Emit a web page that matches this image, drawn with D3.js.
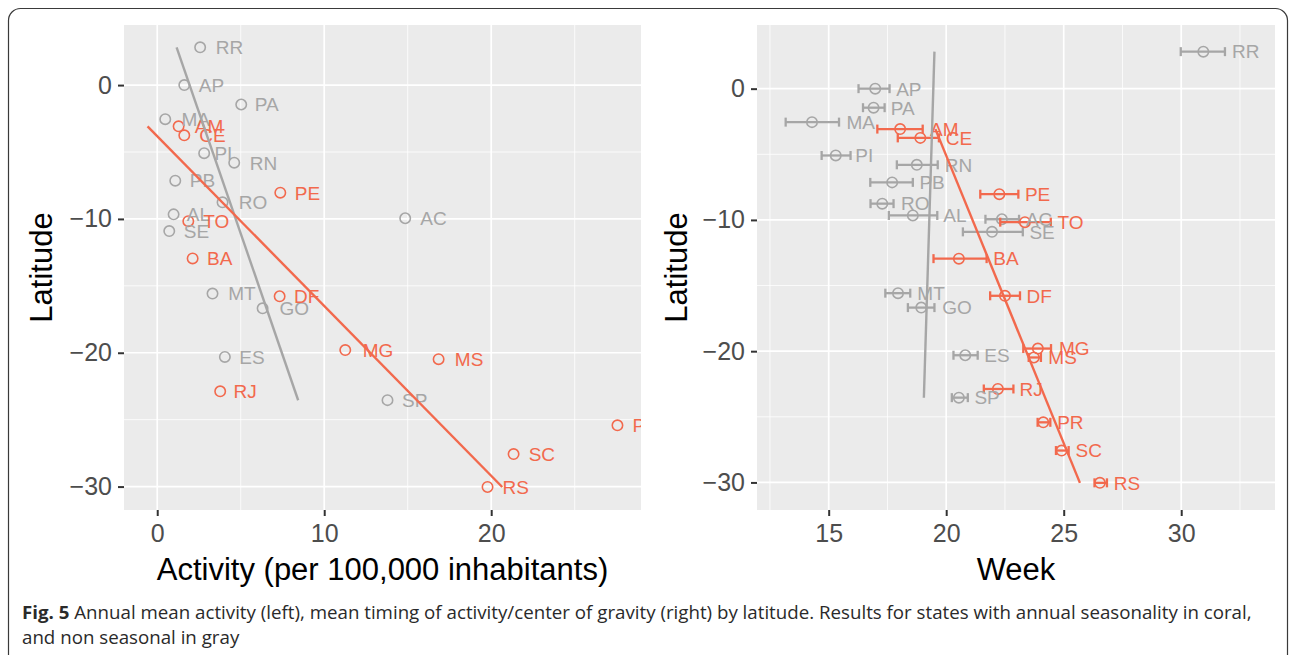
<!DOCTYPE html>
<html><head><meta charset="utf-8">
<script src="https://cdn.jsdelivr.net/npm/d3@7"></script>
<style>
body{margin:0;background:#fff;}
svg{display:block;}
</style>
</head><body>
<script>
// ---- data ----
const states    = ["RR","AP","PA","MA","AM","CE","PI","RN","PB","PE","RO","AL","AC","TO","SE","BA","MT","DF","GO","MG","MS","ES","RJ","SP","PR","SC","RS"];
const latitude  = [2.82,0.00,-1.45,-2.55,-3.08,-3.75,-5.09,-5.80,-7.14,-8.04,-8.76,-9.66,-9.95,-10.17,-10.91,-12.95,-15.58,-15.78,-16.68,-19.80,-20.48,-20.31,-22.88,-23.54,-25.42,-27.57,-30.03];
const seasonal  = [0,0,0,0,1,1,0,0,0,1,0,0,0,1,0,1,0,1,0,1,1,0,1,0,1,1,1];
const activity  = [2.57,1.62,5.03,0.48,1.28,1.62,2.81,4.61,1.08,7.37,3.91,0.98,14.85,1.86,0.72,2.12,3.31,7.33,6.31,11.26,16.85,4.05,3.77,13.79,27.56,21.34,19.78];
const week      = [30.94,16.98,16.91,14.29,18.04,18.90,15.30,18.75,17.70,22.26,17.28,18.58,22.37,23.35,21.95,20.54,17.95,22.50,18.94,23.90,23.73,20.81,22.20,20.54,24.13,24.91,26.54];
const weekLow   = [29.98,16.27,16.46,13.17,17.07,17.94,14.70,17.90,16.77,21.45,16.78,17.56,21.67,22.30,20.71,19.46,17.41,21.87,18.37,23.28,23.51,20.31,21.60,20.24,23.89,24.67,26.31];
const weekHigh  = [31.86,17.59,17.38,15.44,19.00,19.69,15.93,19.64,18.58,23.07,17.76,19.62,23.10,24.45,23.26,21.72,18.47,23.14,19.50,24.46,24.03,21.34,22.86,20.92,24.43,25.21,26.84];
// fitted lines: [x, latitude] end points
const fitActivityGray  = [[1.16, 2.82], [8.44, -23.55]];
const fitActivityCoral = [[-0.58, -3.08], [20.66, -30.03]];
const fitWeekGray      = [[19.50, 2.82], [19.05, -23.55]];
const fitWeekCoral     = [[19.54, -3.08], [25.69, -30.03]];
const xTicksLeft  = [0, 10, 20];
const xTicksRight = [15, 20, 25, 30];
const yTicks      = [0, -10, -20, -30];

const CORAL = "#F2694D", GRAY = "#A6A6A6";
const rows = states.map((s,i)=>({s, lat:latitude[i], seas:seasonal[i], act:activity[i], wk:week[i], lo:weekLow[i], hi:weekHigh[i]}));
const ordered = rows.filter(d=>!d.seas).concat(rows.filter(d=>d.seas));

const W = 1290, H = 655;
const svg = d3.select("body").append("svg").attr("width", W).attr("height", H);

// outer frame
svg.append("rect").attr("x",8.5).attr("y",8.5).attr("width",1279).attr("height",720)
  .attr("rx",12).attr("fill","none").attr("stroke","#3a3a3a").attr("stroke-width",1.2);

const FONT = "'Liberation Sans', Arial, Helvetica, sans-serif";

function panel(opts){
  const {left, width, top, height, xDomain, yDomain, xTicks, xMinor, yMinor, id} = opts;
  const x = d3.scaleLinear().domain(xDomain).range([left, left+width]);
  const y = d3.scaleLinear().domain(yDomain).range([top+height, top]);
  const g = svg.append("g");
  g.append("rect").attr("x",left).attr("y",top).attr("width",width).attr("height",height).attr("fill","#EBEBEB");
  g.selectAll(".vmin").data(xMinor).join("line").attr("x1",d=>x(d)).attr("x2",d=>x(d)).attr("y1",top).attr("y2",top+height)
    .attr("stroke","#fff").attr("stroke-width",0.8);
  g.selectAll(".hmin").data(yMinor).join("line").attr("y1",d=>y(d)).attr("y2",d=>y(d)).attr("x1",left).attr("x2",left+width)
    .attr("stroke","#fff").attr("stroke-width",0.8);
  g.selectAll(".vmaj").data(xTicks).join("line").attr("x1",d=>x(d)).attr("x2",d=>x(d)).attr("y1",top).attr("y2",top+height)
    .attr("stroke","#fff").attr("stroke-width",1.7);
  g.selectAll(".hmaj").data(yTicks).join("line").attr("y1",d=>y(d)).attr("y2",d=>y(d)).attr("x1",left).attr("x2",left+width)
    .attr("stroke","#fff").attr("stroke-width",1.7);
  const ax = svg.append("g").attr("transform",`translate(0,${top+height})`)
    .call(d3.axisBottom(x).tickValues(xTicks).tickSize(6).tickSizeOuter(0).tickPadding(8));
  const ay = svg.append("g").attr("transform",`translate(${left},0)`)
    .call(d3.axisLeft(y).tickValues(yTicks).tickSize(6).tickSizeOuter(0).tickPadding(6));
  [ax, ay].forEach(a=>{
    a.select(".domain").remove();
    a.selectAll(".tick line").attr("stroke","#333").attr("stroke-width",2);
    a.selectAll(".tick text").attr("fill","#4D4D4D").style("font-family",FONT).style("font-size","25px");
  });
  svg.append("clipPath").attr("id",id).append("rect").attr("x",left).attr("y",top).attr("width",width).attr("height",height);
  const plot = svg.append("g").attr("clip-path",`url(#${id})`);
  return {x, y, plot};
}

// ---- left panel ----
const L = panel({left:124, width:517, top:25, height:485, xDomain:[-1.99, 28.97], yDomain:[-31.75, 4.49],
  xTicks:xTicksLeft, xMinor:[5,15,25], yMinor:[-5,-15,-25], id:"clipL"});
L.plot.selectAll("circle").data(ordered).join("circle")
  .attr("cx",d=>L.x(d.act)).attr("cy",d=>L.y(d.lat)).attr("r",5.2)
  .attr("fill","none").attr("stroke",d=>d.seas?CORAL:GRAY).attr("stroke-width",1.6);
const lt = L.plot.selectAll("text").data(ordered).join("text")
  .attr("y",d=>L.y(d.lat)).attr("dy","0.36em")
  .attr("fill",d=>d.seas?CORAL:GRAY).style("font-family",FONT).style("font-size","19px")
  .text(d=>d.s);
lt.each(function(d){ const w=this.getComputedTextLength(); d3.select(this).attr("x", L.x(d.act)+0.57*w); });
[[fitActivityGray,GRAY],[fitActivityCoral,CORAL]].forEach(([pts,c])=>{
  L.plot.append("path").attr("d", d3.line().x(p=>L.x(p[0])).y(p=>L.y(p[1]))(pts))
    .attr("stroke",c).attr("stroke-width",2.4).attr("fill","none");
});

// ---- right panel ----
const R = panel({left:757, width:518, top:25, height:485, xDomain:[11.95, 33.99], yDomain:[-32.1, 4.85],
  xTicks:xTicksRight, xMinor:[12.5,17.5,22.5,27.5,32.5], yMinor:[-5,-15,-25], id:"clipR"});
const eb = R.plot.selectAll("g.eb").data(ordered).join("g").attr("class","eb")
  .attr("stroke",d=>d.seas?CORAL:GRAY).attr("stroke-width",2.3).attr("fill","none");
eb.append("line").attr("x1",d=>R.x(d.lo)).attr("x2",d=>R.x(d.hi)).attr("y1",d=>R.y(d.lat)).attr("y2",d=>R.y(d.lat));
eb.append("line").attr("x1",d=>R.x(d.lo)).attr("x2",d=>R.x(d.lo)).attr("y1",d=>R.y(d.lat)-4.5).attr("y2",d=>R.y(d.lat)+4.5);
eb.append("line").attr("x1",d=>R.x(d.hi)).attr("x2",d=>R.x(d.hi)).attr("y1",d=>R.y(d.lat)-4.5).attr("y2",d=>R.y(d.lat)+4.5);
eb.append("circle").attr("cx",d=>R.x(d.wk)).attr("cy",d=>R.y(d.lat)).attr("r",5.2).attr("stroke-width",1.6);
const rt = R.plot.selectAll("text").data(ordered).join("text")
  .attr("y",d=>R.y(d.lat)).attr("dy","0.36em")
  .attr("fill",d=>d.seas?CORAL:GRAY).style("font-family",FONT).style("font-size","19px")
  .text(d=>d.s);
rt.each(function(d){ const w=this.getComputedTextLength(); d3.select(this).attr("x", R.x(d.hi)+0.26*w); });
[[fitWeekGray,GRAY],[fitWeekCoral,CORAL]].forEach(([pts,c])=>{
  R.plot.append("path").attr("d", d3.line().x(p=>R.x(p[0])).y(p=>R.y(p[1]))(pts))
    .attr("stroke",c).attr("stroke-width",2.4).attr("fill","none");
});

// ---- axis titles ----
function title(txt, x, y, rot){
  svg.append("text").attr("transform",`translate(${x},${y})${rot?" rotate(-90)":""}`)
    .attr("text-anchor","middle").attr("fill","#000").style("font-family",FONT).style("font-size","31px").text(txt);
}
title("Activity (per 100,000 inhabitants)", 382.5, 580);
title("Week", 1016, 580);
title("Latitude", 52, 267.5, true);
title("Latitude", 687, 267.5, true);

// ---- caption ----
const CAPF = "'Open Sans', 'Noto Sans', sans-serif";
const capG = svg.append("g").attr("transform","translate(22,0)");
const cap1 = capG.append("text").attr("x",0).attr("y",619).style("font-family",CAPF).style("font-size","17.5px").attr("fill","#2a2a2a");
cap1.append("tspan").style("font-weight","bold").text("Fig. 5");
cap1.append("tspan").text(" Annual mean activity (left), mean timing of activity/center of gravity (right) by latitude. Results for states with annual seasonality in coral,");
const cap2 = capG.append("text").attr("x",0).attr("y",644).style("font-family",CAPF).style("font-size","17.5px").attr("fill","#2a2a2a")
  .text("and non seasonal in gray");
const sx = 1230 / cap1.node().getComputedTextLength();
capG.attr("transform",`translate(22,0) scale(${sx},1)`);
</script>
</body></html>
